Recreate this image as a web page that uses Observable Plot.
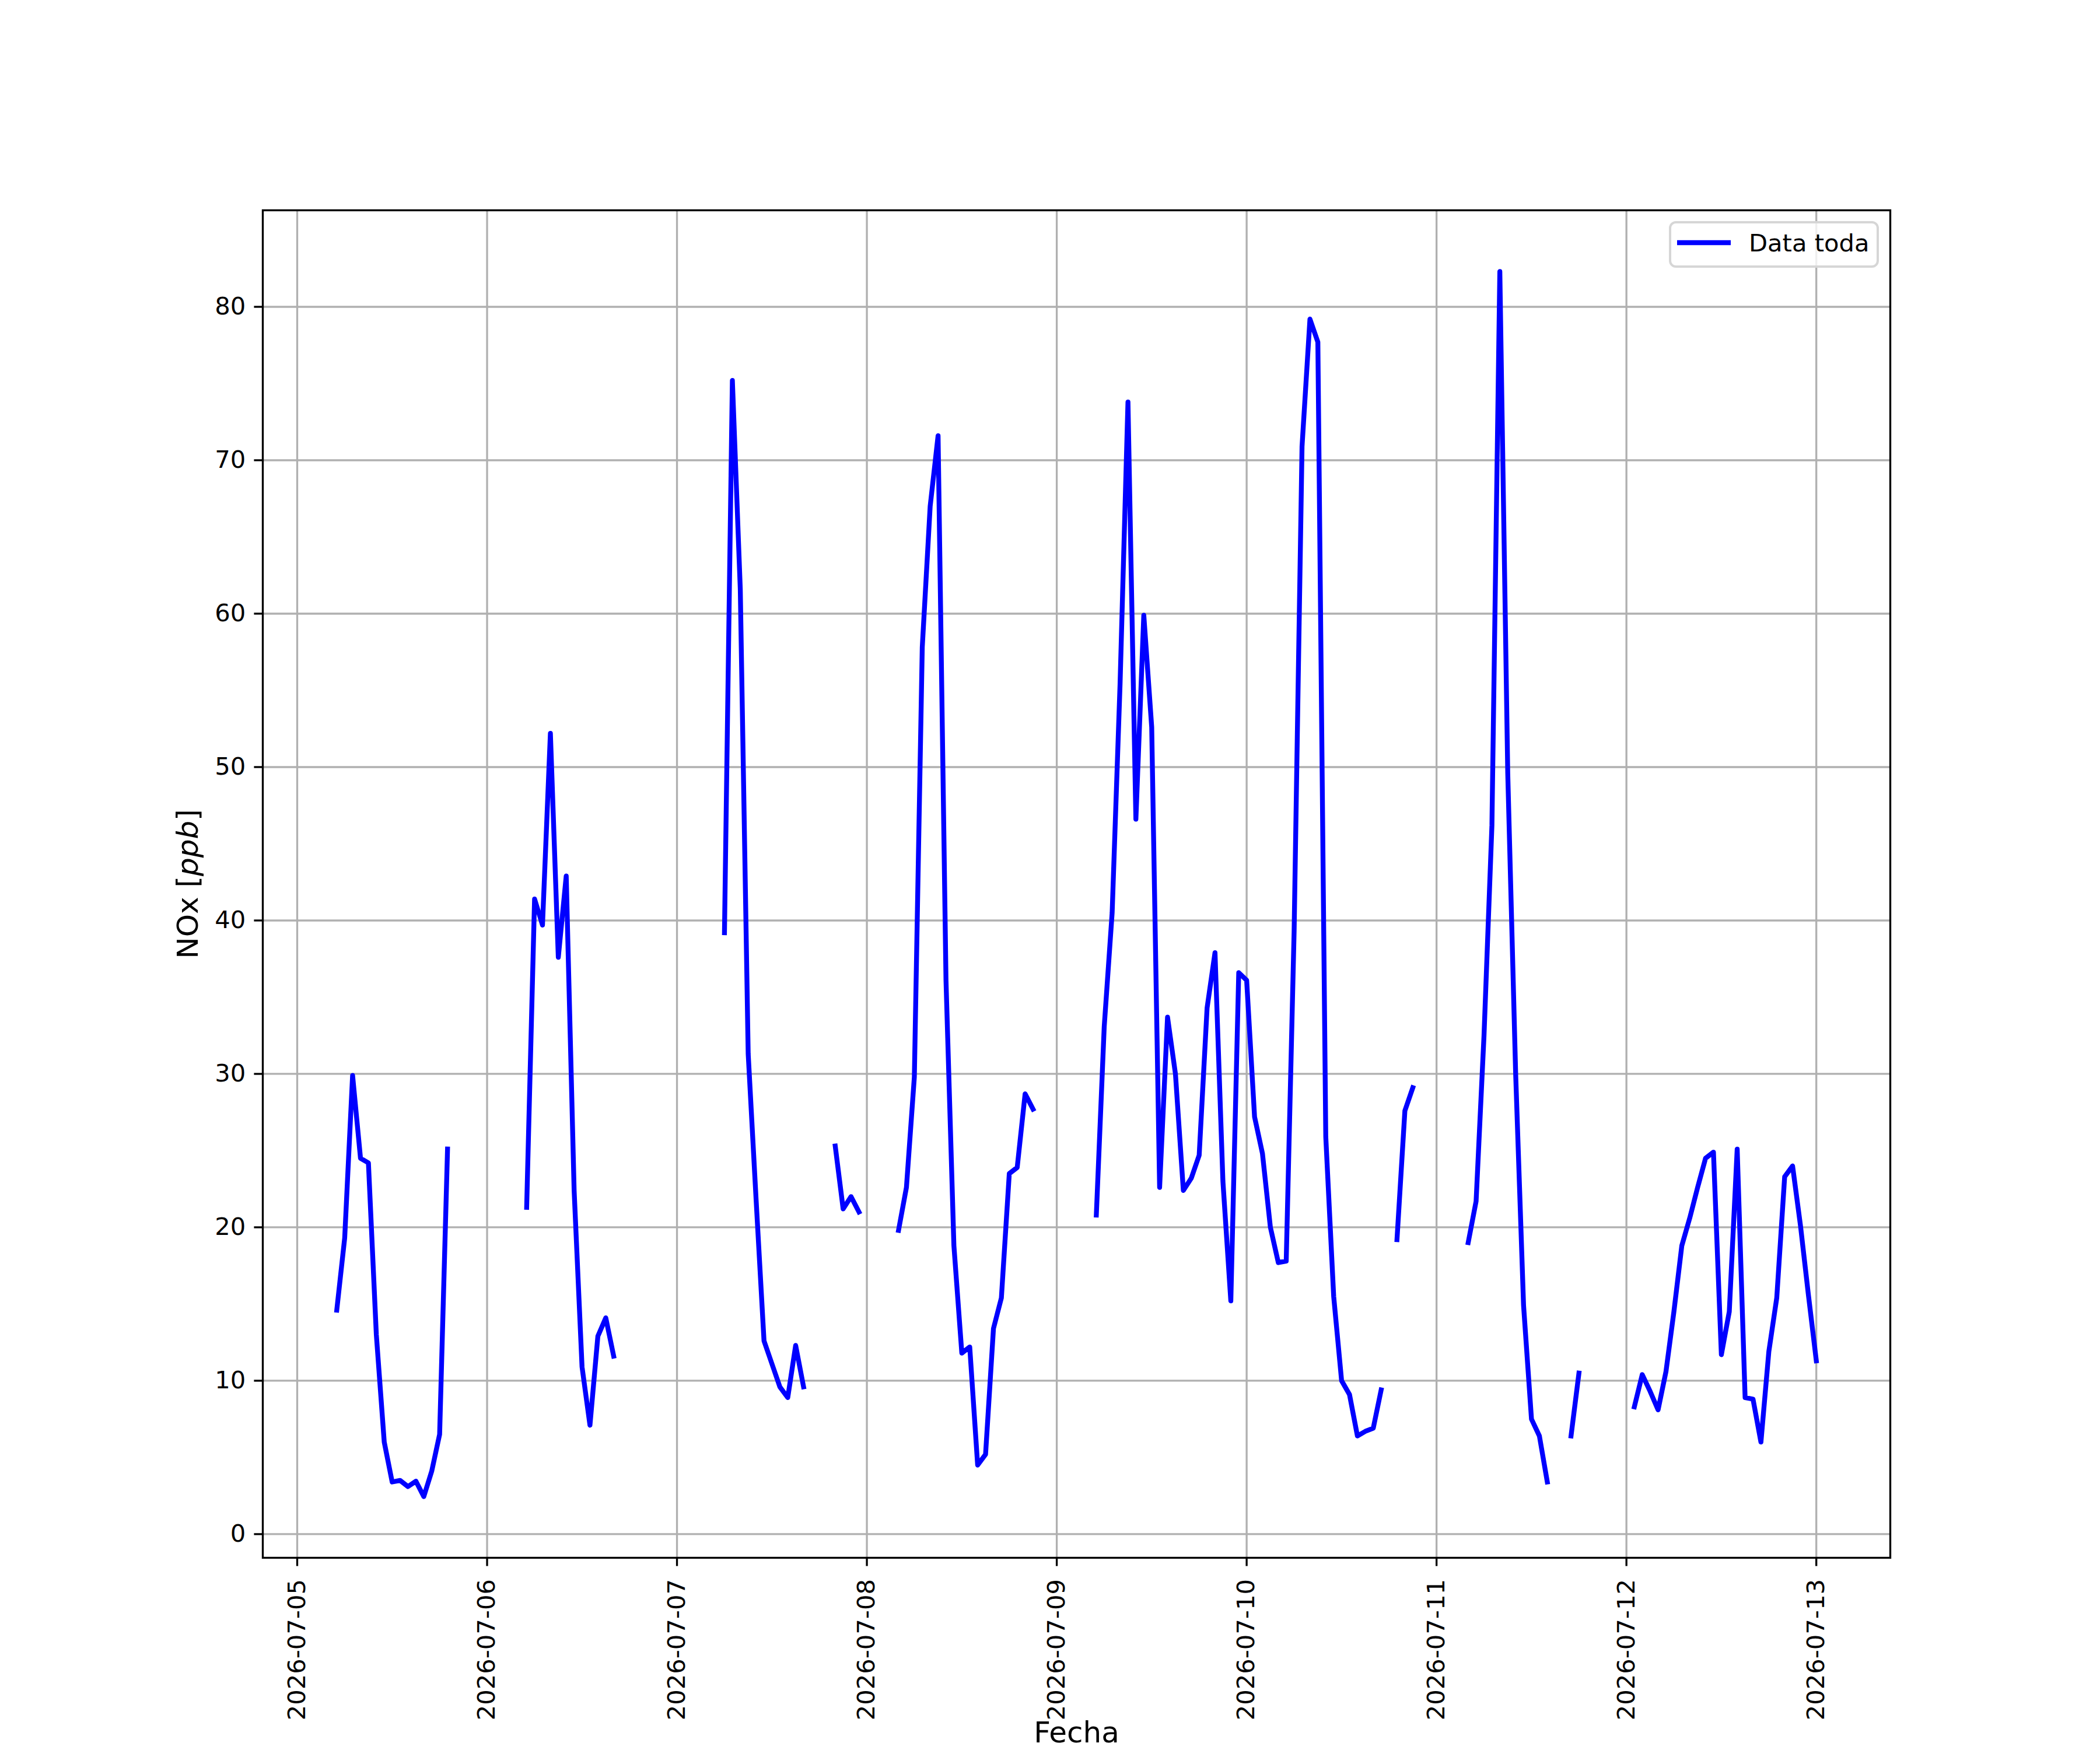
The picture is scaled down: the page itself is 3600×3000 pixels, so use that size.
<!DOCTYPE html>
<html>
<head>
<meta charset="utf-8">
<script src="https://cdn.jsdelivr.net/npm/d3@7"></script>
<script src="https://cdn.jsdelivr.net/npm/@observablehq/plot@0.6"></script>
<style>
html, body { margin: 0; padding: 0; background: #fff; }
#fig { position: relative; width: 3600px; height: 3000px; background: #fff; font-family: "DejaVu Sans"; overflow: hidden; }
#legend { position: absolute; left: 2855px; top: 373px; }
</style>
</head>
<body>
<div id="fig"></div>
<script>
// ---- data (hourly NOx, ppb) ----
const dayLabels = ["2026-07-05","2026-07-06","2026-07-07","2026-07-08","2026-07-09","2026-07-10","2026-07-11","2026-07-12","2026-07-13"];
const firstHour = [5, 5, 6, 4, 5, 0, 4, 1, 0];
const nox0705 = [14.6, 19.3, 29.9, 24.5, 24.2, 13.0, 6.0, 3.4, 3.5, 3.1, 3.45, 2.45, 4.1, 6.5, 25.1];
const nox0706 = [21.3, 41.4, 39.7, 52.2, 37.6, 42.9, 22.4, 10.9, 7.1, 12.9, 14.1, 11.6];
const nox0707 = [39.2, 75.2, 61.6, 31.3, 21.8, 12.6, 11.1, 9.6, 8.9, 12.3, 9.6, null, null, null, 25.3, 21.2, 22.0, 21.0];
const nox0708 = [19.8, 22.6, 29.8, 57.8, 67.0, 71.6, 36.1, 18.8, 11.8, 12.2, 4.5, 5.2, 13.4, 15.4, 23.5, 23.9, 28.7, 27.7];
const nox0709 = [20.8, 33.1, 40.5, 55.4, 73.8, 46.6, 59.9, 52.6, 22.6, 33.7, 30.0, 22.4, 23.2, 24.7, 34.3, 37.9, 23.0, 15.2, 36.6];
const nox0710 = [36.1, 27.2, 24.8, 20.0, 17.7, 17.8, 39.3, 70.9, 79.2, 77.7, 25.9, 15.5, 10.0, 9.1, 6.4, 6.7, 6.9, 9.4, null, 19.2, 27.6, 29.1];
const nox0711 = [19.0, 21.7, 32.5, 46.2, 82.3, 49.6, 30.0, 14.9, 7.5, 6.4, 3.4, null, null, 6.4, 10.5];
const nox0712 = [8.3, 10.4, 9.3, 8.1, 10.6, 14.5, 18.8, 20.6, 22.6, 24.5, 24.9, 11.7, 14.5, 25.1, 8.9, 8.8, 6.0, 11.9, 15.4, 23.3, 24.0, 20.1, 15.6];
const nox0713 = [11.3];
const yTicks = [0, 10, 20, 30, 40, 50, 60, 70, 80];
const legendLabel = "Data toda";
const xLabel = "Fecha";
const yLabel = "NOx [ppb]";

// ---- build hourly table with gaps ----
const daySeries = [nox0705, nox0706, nox0707, nox0708, nox0709, nox0710, nox0711, nox0712, nox0713];
const parseDay = d3.utcParse("%Y-%m-%d");
const base = parseDay(dayLabels[0]).getTime();
const HOUR = 3600e3;
const byHour = new Map();
daySeries.forEach((arr, di) => {
  arr.forEach((v, i) => {
    if (v != null) byHour.set(di * 24 + firstHour[di] + i, v);
  });
});
const hrs = [...byHour.keys()];
const hMin = d3.min(hrs), hMax = d3.max(hrs);
const rows = [];
for (let h = hMin; h <= hMax; h++) {
  rows.push({date: new Date(base + h * HOUR), nox: byHour.has(h) ? byHour.get(h) : null});
}
const xTicks = dayLabels.map(parseDay);

// matplotlib-like 5% margins
const t0 = base + hMin * HOUR, t1 = base + hMax * HOUR;
const xpad = 0.05 * (t1 - t0);
const vals = [...byHour.values()];
const vmin = d3.min(vals), vmax = d3.max(vals);
const ypad = 0.05 * (vmax - vmin);

const svg = Plot.plot({
  width: 3600,
  height: 3000,
  marginLeft: 450,
  marginRight: 360,
  marginTop: 360,
  marginBottom: 330,
  style: {fontFamily: "DejaVu Sans", fontSize: "41.67px", background: "#fff", color: "#000", overflow: "visible"},
  x: {type: "utc", domain: [new Date(t0 - xpad), new Date(t1 + xpad)]},
  y: {domain: [vmin - ypad, vmax + ypad]},
  marks: [
    Plot.gridX(xTicks, {stroke: "#b0b0b0", strokeOpacity: 1, strokeWidth: 3.33}),
    Plot.gridY(yTicks, {stroke: "#b0b0b0", strokeOpacity: 1, strokeWidth: 3.33}),
    Plot.line(rows, {x: "date", y: "nox", stroke: "#0000ff", strokeWidth: 8.33, strokeLinejoin: "round", strokeLinecap: "square"}),
    Plot.frame({stroke: "#000", strokeWidth: 3.33}),
    Plot.axisX(xTicks, {
      tickFormat: d3.utcFormat("%Y-%m-%d"),
      tickRotate: -90,
      textAnchor: "end",
      lineAnchor: "middle",
      tickSize: 14.6,
      tickPadding: 22,
      strokeWidth: 3.33,
      fontSize: 41.67,
      label: null
    }),
    Plot.axisY(yTicks, {
      tickSize: 14.6,
      tickPadding: 14.6,
      strokeWidth: 3.33,
      fontSize: 41.67,
      label: null
    }),
    Plot.text([xLabel], {text: d => d, frameAnchor: "bottom", dy: 316, lineAnchor: "bottom", textAnchor: "middle", fontSize: 50}),
    Plot.text([yLabel], {text: d => d, frameAnchor: "left", dx: -112, rotate: -90, lineAnchor: "bottom", textAnchor: "middle", fontSize: 50})
  ]
});

// italic "ppb" like matplotlib mathtext
svg.querySelectorAll("text").forEach(t => {
  if (t.textContent === yLabel) {
    t.textContent = "";
    const ns = "http://www.w3.org/2000/svg";
    const a = document.createElementNS(ns, "tspan"); a.textContent = "NOx [";
    const b = document.createElementNS(ns, "tspan"); b.textContent = "ppb"; b.setAttribute("font-style", "italic");
    const c = document.createElementNS(ns, "tspan"); c.textContent = "]";
    t.append(a, b, c);
  }
});

const fig = document.getElementById("fig");
fig.appendChild(svg);

// legend (upper right, inside axes)
const legend = d3.create("svg")
  .attr("id", "legend")
  .attr("width", 372).attr("height", 92)
  .style("position", "absolute").style("left", "2855px").style("top", "373px");
legend.append("rect")
  .attr("x", 8).attr("y", 8).attr("width", 356).attr("height", 76)
  .attr("rx", 10).attr("ry", 10)
  .attr("fill", "#fff").attr("fill-opacity", 0.8)
  .attr("stroke", "#d6d6d6").attr("stroke-width", 4);
legend.append("line")
  .attr("x1", 20).attr("x2", 112).attr("y1", 43).attr("y2", 43)
  .attr("stroke", "#0000ff").attr("stroke-width", 8.33).attr("stroke-linecap", "butt");
legend.append("text")
  .attr("x", 143).attr("y", 58)
  .attr("font-family", "DejaVu Sans").attr("font-size", 41.67).attr("fill", "#000")
  .text(legendLabel);
fig.appendChild(legend.node());
</script>
</body>
</html>
